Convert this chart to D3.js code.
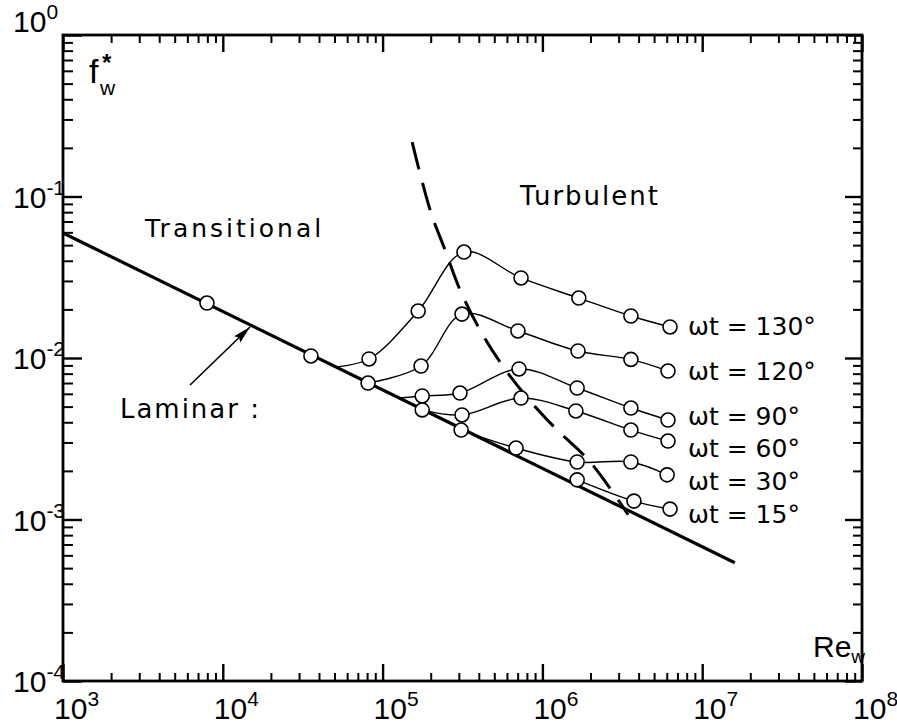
<!DOCTYPE html>
<html>
<head>
<meta charset="utf-8">
<script src="https://cdn.jsdelivr.net/npm/d3@7"></script>
<style>
  html, body { margin: 0; padding: 0; background: #fff; }
  svg { display: block; }
  text { fill: #000; }
</style>
</head>
<body>
<svg id="chart" width="897" height="725"></svg>
<script>
// Wave friction factor f*_w against wave Reynolds number Re_w.
// Each series: [Re_w, f*_w, marker?] where marker = 1 draws an open circle.
const laminar = [[1e3, 0.0594], [1.6e7, 5.4e-4]];
const laminarPoints = [[7.96e3, 0.0219], [3.56e4, 0.0103]];

const wt130 = [[5.04e4, 8.8e-3, 0], [8.22e4, 9.86e-3, 1], [1.67e5, 0.01954, 1], [3.23e5, 0.0453, 1],
               [7.35e5, 0.0313, 1], [1.69e6, 0.0235, 1], [3.58e6, 0.0182, 1], [6.29e6, 0.01556, 1]];
const wt120 = [[8.11e4, 7.0e-3, 1], [1.74e5, 8.92e-3, 1], [3.14e5, 0.0187, 1], [7.03e5, 0.0147, 1],
               [1.67e6, 0.01105, 1], [3.58e6, 9.8e-3, 1], [6.11e6, 8.3e-3, 1]];
const wt90  = [[1.28e5, 5.65e-3, 0], [1.77e5, 5.82e-3, 1], [3.05e5, 6.07e-3, 1], [7.14e5, 8.55e-3, 1],
               [1.65e6, 6.52e-3, 1], [3.58e6, 4.9e-3, 1], [6.11e6, 4.13e-3, 1]];
const wt60  = [[1.77e5, 4.77e-3, 1], [3.14e5, 4.44e-3, 1], [7.35e5, 5.65e-3, 1], [1.62e6, 4.70e-3, 1],
               [3.58e6, 3.58e-3, 1], [6.11e6, 3.06e-3, 1]];
const wt30  = [[3.10e5, 3.58e-3, 1], [6.84e5, 2.77e-3, 1], [1.65e6, 2.27e-3, 1], [3.58e6, 2.27e-3, 1],
               [6.03e6, 1.89e-3, 1]];
const wt15  = [[1.65e6, 1.76e-3, 1], [3.74e6, 1.30e-3, 1], [6.29e6, 1.16e-3, 1]];

const seriesNames = ["ωt = 130°", "ωt = 120°", "ωt = 90°", "ωt = 60°", "ωt = 30°", "ωt = 15°"];
const seriesData = [wt130, wt120, wt90, wt60, wt30, wt15];

// Transition boundary (dashed)
const boundary = [[1.53e5, 0.217], [2.01e5, 0.079], [2.46e5, 0.0467], [3.05e5, 0.0264], [4.07e5, 0.0149],
                  [5.43e5, 9.44e-3], [7.79e5, 5.90e-3], [1.20e6, 3.69e-3], [1.99e6, 2.27e-3], [3.44e6, 1.07e-3]];

const xTickExps = [3, 4, 5, 6, 7, 8];
const yTickExps = [0, -1, -2, -3, -4];

// ---- layout ----
const svg = d3.select("#chart");
const mLeft = 63, mRight = 862, mTop = 35, mBottom = 681;

const x = d3.scaleLog().domain([1e3, 1e8]).range([mLeft, mRight]);
const y = d3.scaleLog().domain([1e-4, 1]).range([mBottom, mTop]);

const majorX = xTickExps.map(e => Math.pow(10, e));
const majorY = yTickExps.map(e => Math.pow(10, e));
function minorTicks(lo, hi) {
  const out = [];
  for (let e = lo; e < hi; e++) for (let k = 2; k <= 9; k++) out.push(k * Math.pow(10, e));
  return out;
}
const minorX = minorTicks(3, 8);
const minorY = minorTicks(-4, 0);

function drawAxis(axisFn, scale, values, size, transform, width) {
  const g = svg.append("g").attr("transform", transform)
    .call(axisFn(scale).tickValues(values).tickSize(size).tickSizeOuter(0).tickFormat(""));
  g.select(".domain").remove();
  g.selectAll(".tick line").attr("stroke", "#000").attr("stroke-width", width);
  return g;
}
// ticks point into the plot on all four sides
drawAxis(d3.axisTop, x, minorX, 8, `translate(0,${mBottom})`, 2);
drawAxis(d3.axisTop, x, majorX, 17, `translate(0,${mBottom})`, 2.4);
drawAxis(d3.axisBottom, x, minorX, 8, `translate(0,${mTop})`, 2);
drawAxis(d3.axisBottom, x, majorX, 17, `translate(0,${mTop})`, 2.4);
drawAxis(d3.axisRight, y, minorY, 10, `translate(${mLeft},0)`, 2);
drawAxis(d3.axisRight, y, majorY, 19, `translate(${mLeft},0)`, 2.4);
drawAxis(d3.axisLeft, y, minorY, 9, `translate(${mRight},0)`, 2);
drawAxis(d3.axisLeft, y, majorY, 17, `translate(${mRight},0)`, 2.4);

// frame
svg.append("rect")
  .attr("x", mLeft).attr("y", mTop)
  .attr("width", mRight - mLeft).attr("height", mBottom - mTop)
  .attr("fill", "none").attr("stroke", "#000").attr("stroke-width", 2.8);

const labelFont = "'Liberation Sans', Arial, sans-serif";

// y tick labels 10^n
svg.append("g").selectAll("text").data(yTickExps).join("text")
  .attr("x", 13)
  .attr("y", e => y(Math.pow(10, e)) + (e === 0 ? -3 : 11))
  .attr("font-family", labelFont).attr("font-size", 30)
  .each(function (e) {
    const t = d3.select(this);
    t.append("tspan").text("10");
    t.append("tspan").attr("dy", -13).attr("font-size", 21).text(e < 0 ? "-" + (-e) : String(e));
  });

// x tick labels 10^n
svg.append("g").selectAll("text").data(xTickExps).join("text")
  .attr("x", e => x(Math.pow(10, e)) - 9)
  .attr("y", 719)
  .attr("font-family", labelFont).attr("font-size", 30)
  .each(function (e) {
    const t = d3.select(this);
    t.append("tspan").text("10");
    t.append("tspan").attr("dy", -13).attr("font-size", 21).text(String(e));
  });

// axis titles: f*_w, star set above the subscript
const yTitle = svg.append("g").attr("font-family", labelFont);
yTitle.append("text").attr("x", 89).attr("y", 83).attr("font-size", 34).text("f");
yTitle.append("text").attr("x", 102).attr("y", 71).attr("font-size", 24).attr("font-weight", "bold").text("*");
yTitle.append("text").attr("x", 100).attr("y", 95).attr("font-size", 21).text("w");

const rx = svg.append("text").attr("x", 813).attr("y", 657)
  .attr("font-family", labelFont).attr("font-size", 30);
rx.append("tspan").text("Re");
rx.append("tspan").attr("dy", 6).attr("font-size", 19).text("w");

// laminar line
const lineGen = d3.line().x(d => x(d[0])).y(d => y(d[1]));
svg.append("path").datum(laminar)
  .attr("d", lineGen).attr("fill", "none")
  .attr("stroke", "#000").attr("stroke-width", 3.2);

// phase curves
const curveGen = d3.line().x(d => x(d[0])).y(d => y(d[1])).curve(d3.curveCatmullRom.alpha(0.5));
seriesData.forEach(s => {
  svg.append("path").datum(s)
    .attr("d", curveGen).attr("fill", "none")
    .attr("stroke", "#000").attr("stroke-width", 1.4);
});

// transition boundary
svg.append("path").datum(boundary)
  .attr("d", curveGen)
  .attr("fill", "none").attr("stroke", "#000").attr("stroke-width", 3)
  .attr("stroke-dasharray", "28,14");

// markers
const markers = laminarPoints.concat(...seriesData.map(s => s.filter(d => d[2] === 1)));
svg.append("g").selectAll("circle").data(markers).join("circle")
  .attr("cx", d => x(d[0])).attr("cy", d => y(d[1])).attr("r", 7)
  .attr("fill", "#fff").attr("stroke", "#000").attr("stroke-width", 1.6);

// phase labels, stacked beside the last marker of each curve
const phaseLabelY = [335, 380, 425, 457, 490, 523];
svg.append("g").selectAll("text").data(seriesNames).join("text")
  .attr("x", 688).attr("y", (d, i) => phaseLabelY[i])
  .attr("font-family", "'DejaVu Sans', sans-serif").attr("font-size", 25)
  .text(d => d);

// region annotations
const noteFont = "'DejaVu Sans', sans-serif";
svg.append("text").attr("x", x(3.26e3)).attr("y", y(0.0561))
  .attr("font-family", noteFont).attr("font-size", 25).attr("letter-spacing", 3)
  .text("Transitional");
svg.append("text").attr("x", x(7.24e5)).attr("y", y(0.0886))
  .attr("font-family", noteFont).attr("font-size", 26).attr("letter-spacing", 2)
  .text("Turbulent");
svg.append("text").attr("x", x(2.27e3)).attr("y", y(4.25e-3))
  .attr("font-family", noteFont).attr("font-size", 26).attr("letter-spacing", 2)
  .text("Laminar :");

// arrow pointing at the laminar line
svg.append("defs").append("marker")
  .attr("id", "head").attr("viewBox", "0 0 18 9").attr("refX", 18).attr("refY", 4.5)
  .attr("markerWidth", 18).attr("markerHeight", 9).attr("markerUnits", "userSpaceOnUse")
  .attr("orient", "auto")
  .append("path").attr("d", "M0,0 L18,4.5 L0,9 L3,4.5 Z").attr("fill", "#000");
const arrow = [[6.24e3, 6.8e-3], [1.48e4, 0.01556]];
svg.append("line")
  .attr("x1", x(arrow[0][0])).attr("y1", y(arrow[0][1]))
  .attr("x2", x(arrow[1][0])).attr("y2", y(arrow[1][1]))
  .attr("stroke", "#000").attr("stroke-width", 1.6)
  .attr("marker-end", "url(#head)");
</script>
</body>
</html>
